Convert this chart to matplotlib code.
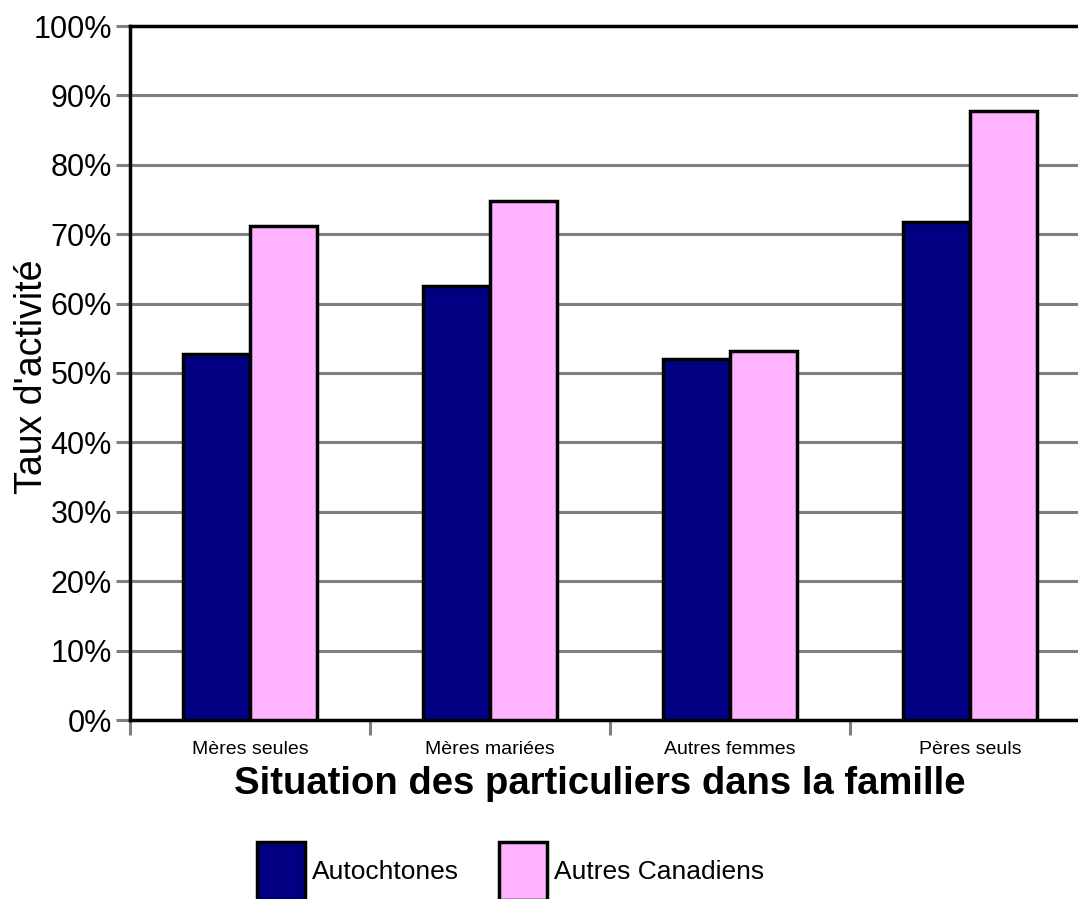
import numpy as np
import matplotlib.pyplot as plt

plt.rcParams['font.family'] = ['Liberation Sans', 'DejaVu Sans']

categories = ["Mères seules", "Mères mariées", "Autres femmes", "Pères seuls"]
autochtones = [52.8, 62.6, 52.0, 71.7]
autres_canadiens = [71.2, 74.8, 53.1, 87.7]
series_names = ["Autochtones", "Autres Canadiens"]
colors = ["#000080", "#FFB2FF"]

fig = plt.figure(figsize=(10.78, 8.99), dpi=100)
ax = fig.add_axes([130 / 1078, 1 - 720 / 899, 960 / 1078, 694 / 899])

x = np.arange(len(categories)) + 0.5
w = 0.28
ax.bar(x - w / 2, autochtones, w, color=colors[0], edgecolor="black",
       linewidth=2.5, label=series_names[0], zorder=3)
ax.bar(x + w / 2, autres_canadiens, w, color=colors[1], edgecolor="black",
       linewidth=2.5, label=series_names[1], zorder=3)

ax.set_xlim(0, 4)
ax.set_ylim(0, 100)
ax.set_yticks(np.arange(0, 101, 10))
ax.set_yticklabels([f"{v}%" for v in range(0, 101, 10)], fontsize=22)
ax.yaxis.grid(True, color="#808080", linewidth=2.2, zorder=0)
ax.tick_params(axis="y", colors="#808080", length=10, width=2.2, labelcolor="black", pad=3)

ax.set_xticks(np.arange(0, 5))
ax.set_xticklabels([])
ax.set_xticks(x, minor=True)
ax.set_xticklabels(categories, minor=True, fontsize=14)
ax.tick_params(axis="x", which="major", colors="#808080", length=11, width=2.2)
ax.tick_params(axis="x", which="minor", length=0, pad=15)

for s in ["top", "left", "bottom"]:
    ax.spines[s].set_linewidth(2.5)
    ax.spines[s].set_color("black")
ax.spines["right"].set_visible(False)

ax.set_ylabel("Taux d'activité", fontsize=27)
ax.yaxis.set_label_coords(-80 / 960, 0.495)
ax.set_xlabel("Situation des particuliers dans la famille", fontsize=27.5,
              fontweight="bold", labelpad=6)
ax.xaxis.label.set_x((600 - 130) / 960)

fig.legend(loc="upper left", bbox_to_anchor=(257 / 1078, 1 - 842 / 899),
           ncol=2, frameon=False, fontsize=19, borderpad=0,
           handlelength=1.8, handleheight=3.0, handletextpad=0.3,
           columnspacing=1.5, borderaxespad=0)

fig.savefig("out.png", dpi=100)
